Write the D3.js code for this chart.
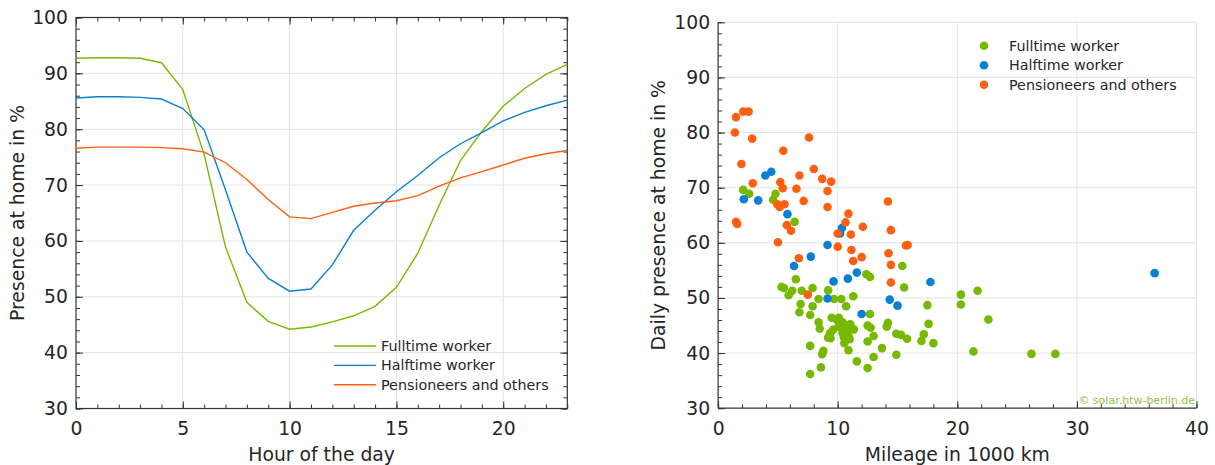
<!DOCTYPE html>
<html>
<head>
<meta charset="utf-8">
<script src="https://cdn.jsdelivr.net/npm/d3@7"></script>
<style>
  body { margin: 0; background: #fff; }
  text { font-family: "DejaVu Sans", Verdana, sans-serif; fill: #262626; }
</style>
</head>
<body>
<svg id="chart" width="1215" height="465"></svg>
<script>
// left chart: presence at home over the day
const hours = [0,1,2,3,4,5,6,7,8,9,10,11,12,13,14,15,16,17,18,19,20,21,22,23];
const fulltimeDay = [92.7,92.8,92.8,92.7,91.9,87.1,75.5,58.9,49.0,45.6,44.2,44.6,45.5,46.6,48.3,51.7,57.8,66.4,74.4,79.6,84.1,87.3,89.8,91.6];
const halftimeDay = [85.6,85.8,85.8,85.7,85.4,83.7,79.9,69.1,58.0,53.3,51.0,51.4,55.7,61.9,65.5,68.8,71.7,74.9,77.4,79.4,81.5,83.0,84.2,85.2];
const pensionerDay = [76.6,76.8,76.8,76.8,76.7,76.5,75.9,74.0,71.0,67.4,64.3,64.0,65.1,66.2,66.8,67.2,68.1,69.8,71.3,72.4,73.6,74.8,75.6,76.2];

// right chart: [mileage in 1000 km, daily presence in %]
const fulltimePoints = [
  [2.1,69.6],[2.6,68.9],[4.8,68.9],[4.6,67.8],[6.4,63.8],[6.5,53.4],[5.3,52.0],[5.5,51.8],
  [6.2,51.3],[5.9,50.5],[7.0,51.3],[7.9,51.8],[9.2,51.4],[8.4,49.8],[9.7,49.8],[10.3,49.8],
  [11.3,50.3],[12.4,54.3],[12.7,53.8],[6.9,48.9],[7.9,48.5],[6.8,47.4],[7.7,46.9],[10.7,48.5],
  [12.7,47.1],[8.4,45.6],[8.5,44.4],[9.5,46.4],[9.9,46.1],[10.1,46.4],[10.4,45.6],[9.6,44.2],
  [9.35,43.6],[9.2,42.8],[9.4,42.7],[10.75,44.9],[11.0,44.3],[10.75,43.7],[10.9,43.1],[11.0,42.5],
  [10.55,41.8],[10.9,40.5],[10.4,43.7],[10.05,44.8],[11.35,44.3],[11.05,45.2],[7.7,41.3],[8.8,40.4],
  [8.7,39.8],[8.6,37.4],[7.7,36.2],[11.6,38.5],[12.5,37.3],[13.0,39.3],[12.5,45.0],[12.75,44.6],
  [13.0,43.1],[12.5,42.1],[13.7,40.9],[14.2,45.5],[14.1,44.8],[14.9,43.5],[15.3,43.3],[15.8,42.6],
  [17.2,43.4],[17.0,42.2],[18.0,41.8],[14.9,39.7],[15.4,55.8],[15.55,51.9],[17.5,48.7],[17.6,45.3],
  [20.3,50.6],[20.3,48.8],[21.7,51.3],[22.6,46.1],[21.35,40.3],[26.2,39.85],[28.2,39.85],[10.6,45.0],
  [10.5,42.9]
];
const halftimePoints = [
  [3.95,72.2],[4.45,72.9],[2.15,67.9],[3.35,67.7],[5.8,65.2],[10.35,62.7],[10.2,61.7],[9.15,59.6],
  [7.75,57.5],[6.35,55.8],[9.65,53.0],[10.85,53.5],[11.6,54.6],[9.15,49.9],[12.0,47.1],[14.35,49.7],
  [15.0,48.6],[17.75,52.9],[36.5,54.5]
];
const pensionerPoints = [
  [1.5,82.8],[2.1,83.8],[2.55,83.8],[1.4,80.0],[2.85,78.9],[7.6,79.1],[5.45,76.7],[1.95,74.3],
  [8.0,73.4],[6.8,72.2],[8.7,71.6],[9.45,71.1],[2.9,70.8],[5.2,71.0],[5.4,69.9],[6.55,69.8],
  [9.15,69.4],[7.15,67.6],[4.95,67.0],[5.15,66.5],[5.55,67.0],[9.15,66.5],[1.5,63.8],[1.6,63.4],
  [10.9,65.3],[10.65,63.7],[12.1,62.9],[5.75,63.2],[6.1,62.2],[10.0,61.7],[11.1,61.5],[5.0,60.1],
  [10.0,59.3],[11.15,58.7],[11.3,56.7],[12.0,57.4],[6.75,57.2],[7.5,50.6],[14.2,67.5],[14.45,62.3],
  [14.25,58.1],[14.45,56.0],[14.45,52.8],[15.7,59.5],[15.85,59.6]
];

const seriesNames = ['Fulltime worker', 'Halftime worker', 'Pensioneers and others'];
const colors = ['#77b900', '#0a80d2', '#ff5f0f'];

const yTicks = [30,40,50,60,70,80,90,100];
const yMinor = [30,32,34,36,38,40,42,44,46,48,50,52,54,56,58,60,62,64,66,68,70,72,74,76,78,80,82,84,86,88,90,92,94,96,98,100];
const hourTicks = [0,5,10,15,20];
const mileageTicks = [0,10,20,30,40];
const mileageMinor = [0,2,4,6,8,10,12,14,16,18,20,22,24,26,28,30,32,34,36,38,40];

const axisColor = '#333';
const gridColor = '#e3e3e3';
const labelSize = 18.8;
const legendSize = 14.3;
const svg = d3.select('#chart');

function styleAxis(g)
{
  g.select('.domain').remove();
  g.selectAll('line').attr('stroke', axisColor);
  g.selectAll('text').attr('font-size', labelSize).attr('fill', '#262626');
}

function drawAxis(axis, tx, ty)
{
  svg.append('g')
    .attr('transform', `translate(${tx},${ty})`)
    .call(axis)
    .call(styleAxis);
}

// ---------- left chart ----------
const xL = d3.scaleLinear().domain([0, 23]).range([76, 567.3]);
const yL = d3.scaleLinear().domain([30, 100]).range([408.5, 17.5]);

const gridL = svg.append('g');
gridL.selectAll('.vg').data([5,10,15,20]).join('line')
  .attr('x1', d => xL(d)).attr('x2', d => xL(d))
  .attr('y1', yL(30)).attr('y2', yL(100))
  .attr('stroke', gridColor).attr('stroke-width', 1);
gridL.selectAll('.hg').data([40,50,60,70,80,90]).join('line')
  .attr('x1', xL(0)).attr('x2', xL(23))
  .attr('y1', d => yL(d)).attr('y2', d => yL(d))
  .attr('stroke', gridColor).attr('stroke-width', 1);

drawAxis(d3.axisBottom(xL).tickValues(hours).tickSize(-4).tickFormat(''), 0, yL(30));
drawAxis(d3.axisBottom(xL).tickValues(hourTicks).tickSize(-7).tickPadding(13), 0, yL(30));
drawAxis(d3.axisTop(xL).tickValues(hours).tickSize(-4).tickFormat(''), 0, yL(100));
drawAxis(d3.axisTop(xL).tickValues(hourTicks).tickSize(-7).tickFormat(''), 0, yL(100));
drawAxis(d3.axisLeft(yL).tickValues(yMinor).tickSize(-4).tickFormat(''), xL(0), 0);
drawAxis(d3.axisLeft(yL).tickValues(yTicks).tickSize(-7).tickPadding(8), xL(0), 0);
drawAxis(d3.axisRight(yL).tickValues(yMinor).tickSize(-4).tickFormat(''), xL(23), 0);
drawAxis(d3.axisRight(yL).tickValues(yTicks).tickSize(-7).tickFormat(''), xL(23), 0);

svg.append('rect')
  .attr('x', xL(0)).attr('y', yL(100))
  .attr('width', xL(23) - xL(0)).attr('height', yL(30) - yL(100))
  .attr('fill', 'none').attr('stroke', axisColor).attr('stroke-width', 1.2);

const lineL = d3.line().x((d, i) => xL(hours[i])).y(d => yL(d));
[fulltimeDay, halftimeDay, pensionerDay].forEach((s, i) => {
  svg.append('path')
    .datum(s)
    .attr('d', lineL)
    .attr('fill', 'none')
    .attr('stroke', colors[i])
    .attr('stroke-width', 1.4);
});

const legL = svg.append('g').attr('transform', 'translate(334,346)');
seriesNames.forEach((name, i) => {
  legL.append('line')
    .attr('x1', 0).attr('x2', 42)
    .attr('y1', i * 19.4).attr('y2', i * 19.4)
    .attr('stroke', colors[i]).attr('stroke-width', 1.4);
  legL.append('text')
    .attr('x', 47).attr('y', i * 19.4 + 5)
    .attr('font-size', legendSize)
    .text(name);
});

svg.append('text')
  .attr('x', (xL(0) + xL(23)) / 2).attr('y', 461)
  .attr('text-anchor', 'middle').attr('font-size', labelSize)
  .text('Hour of the day');
svg.append('text')
  .attr('transform', `translate(24,${(yL(30) + yL(100)) / 2}) rotate(-90)`)
  .attr('text-anchor', 'middle').attr('font-size', labelSize)
  .text('Presence at home in %');

// ---------- right chart ----------
const xR = d3.scaleLinear().domain([0, 40]).range([718.1, 1196.5]);
const yR = d3.scaleLinear().domain([30, 100]).range([408.2, 22.3]);

const gridR = svg.append('g');
gridR.selectAll('.vg').data([10,20,30,40]).join('line')
  .attr('x1', d => xR(d)).attr('x2', d => xR(d))
  .attr('y1', yR(30)).attr('y2', yR(100))
  .attr('stroke', gridColor).attr('stroke-width', 1);
gridR.selectAll('.hg').data([40,50,60,70,80,90,100]).join('line')
  .attr('x1', xR(0)).attr('x2', xR(40))
  .attr('y1', d => yR(d)).attr('y2', d => yR(d))
  .attr('stroke', gridColor).attr('stroke-width', 1);

drawAxis(d3.axisBottom(xR).tickValues(mileageMinor).tickSize(-4).tickFormat(''), 0, yR(30));
drawAxis(d3.axisBottom(xR).tickValues(mileageTicks).tickSize(-7).tickPadding(13), 0, yR(30));
drawAxis(d3.axisLeft(yR).tickValues(yMinor).tickSize(-4).tickFormat(''), xR(0), 0);
drawAxis(d3.axisLeft(yR).tickValues(yTicks).tickSize(-7).tickPadding(8), xR(0), 0);

svg.append('line')
  .attr('x1', xR(0)).attr('x2', xR(40)).attr('y1', yR(30)).attr('y2', yR(30))
  .attr('stroke', axisColor).attr('stroke-width', 1.2);
svg.append('line')
  .attr('x1', xR(0)).attr('x2', xR(0)).attr('y1', yR(30)).attr('y2', yR(100))
  .attr('stroke', axisColor).attr('stroke-width', 1.2);

[fulltimePoints, halftimePoints, pensionerPoints].forEach((pts, i) => {
  svg.append('g')
    .selectAll('circle')
    .data(pts)
    .join('circle')
    .attr('cx', d => xR(d[0]))
    .attr('cy', d => yR(d[1]))
    .attr('r', 4.3)
    .attr('fill', colors[i]);
});

const legR = svg.append('g').attr('transform', 'translate(984,45.7)');
seriesNames.forEach((name, i) => {
  legR.append('circle')
    .attr('cx', 0).attr('cy', i * 19.5)
    .attr('r', 4.3).attr('fill', colors[i]);
  legR.append('text')
    .attr('x', 25).attr('y', i * 19.5 + 5)
    .attr('font-size', legendSize)
    .text(name);
});

svg.append('text')
  .attr('x', 1195).attr('y', 404)
  .attr('text-anchor', 'end').attr('font-size', 11)
  .style('fill', '#8dc63f')
  .text('© solar.htw-berlin.de');

svg.append('text')
  .attr('x', (xR(0) + xR(40)) / 2).attr('y', 461)
  .attr('text-anchor', 'middle').attr('font-size', labelSize)
  .text('Mileage in 1000 km');
svg.append('text')
  .attr('transform', `translate(665,${(yR(30) + yR(100)) / 2}) rotate(-90)`)
  .attr('text-anchor', 'middle').attr('font-size', labelSize)
  .text('Daily presence at home in %');
</script>
</body>
</html>
